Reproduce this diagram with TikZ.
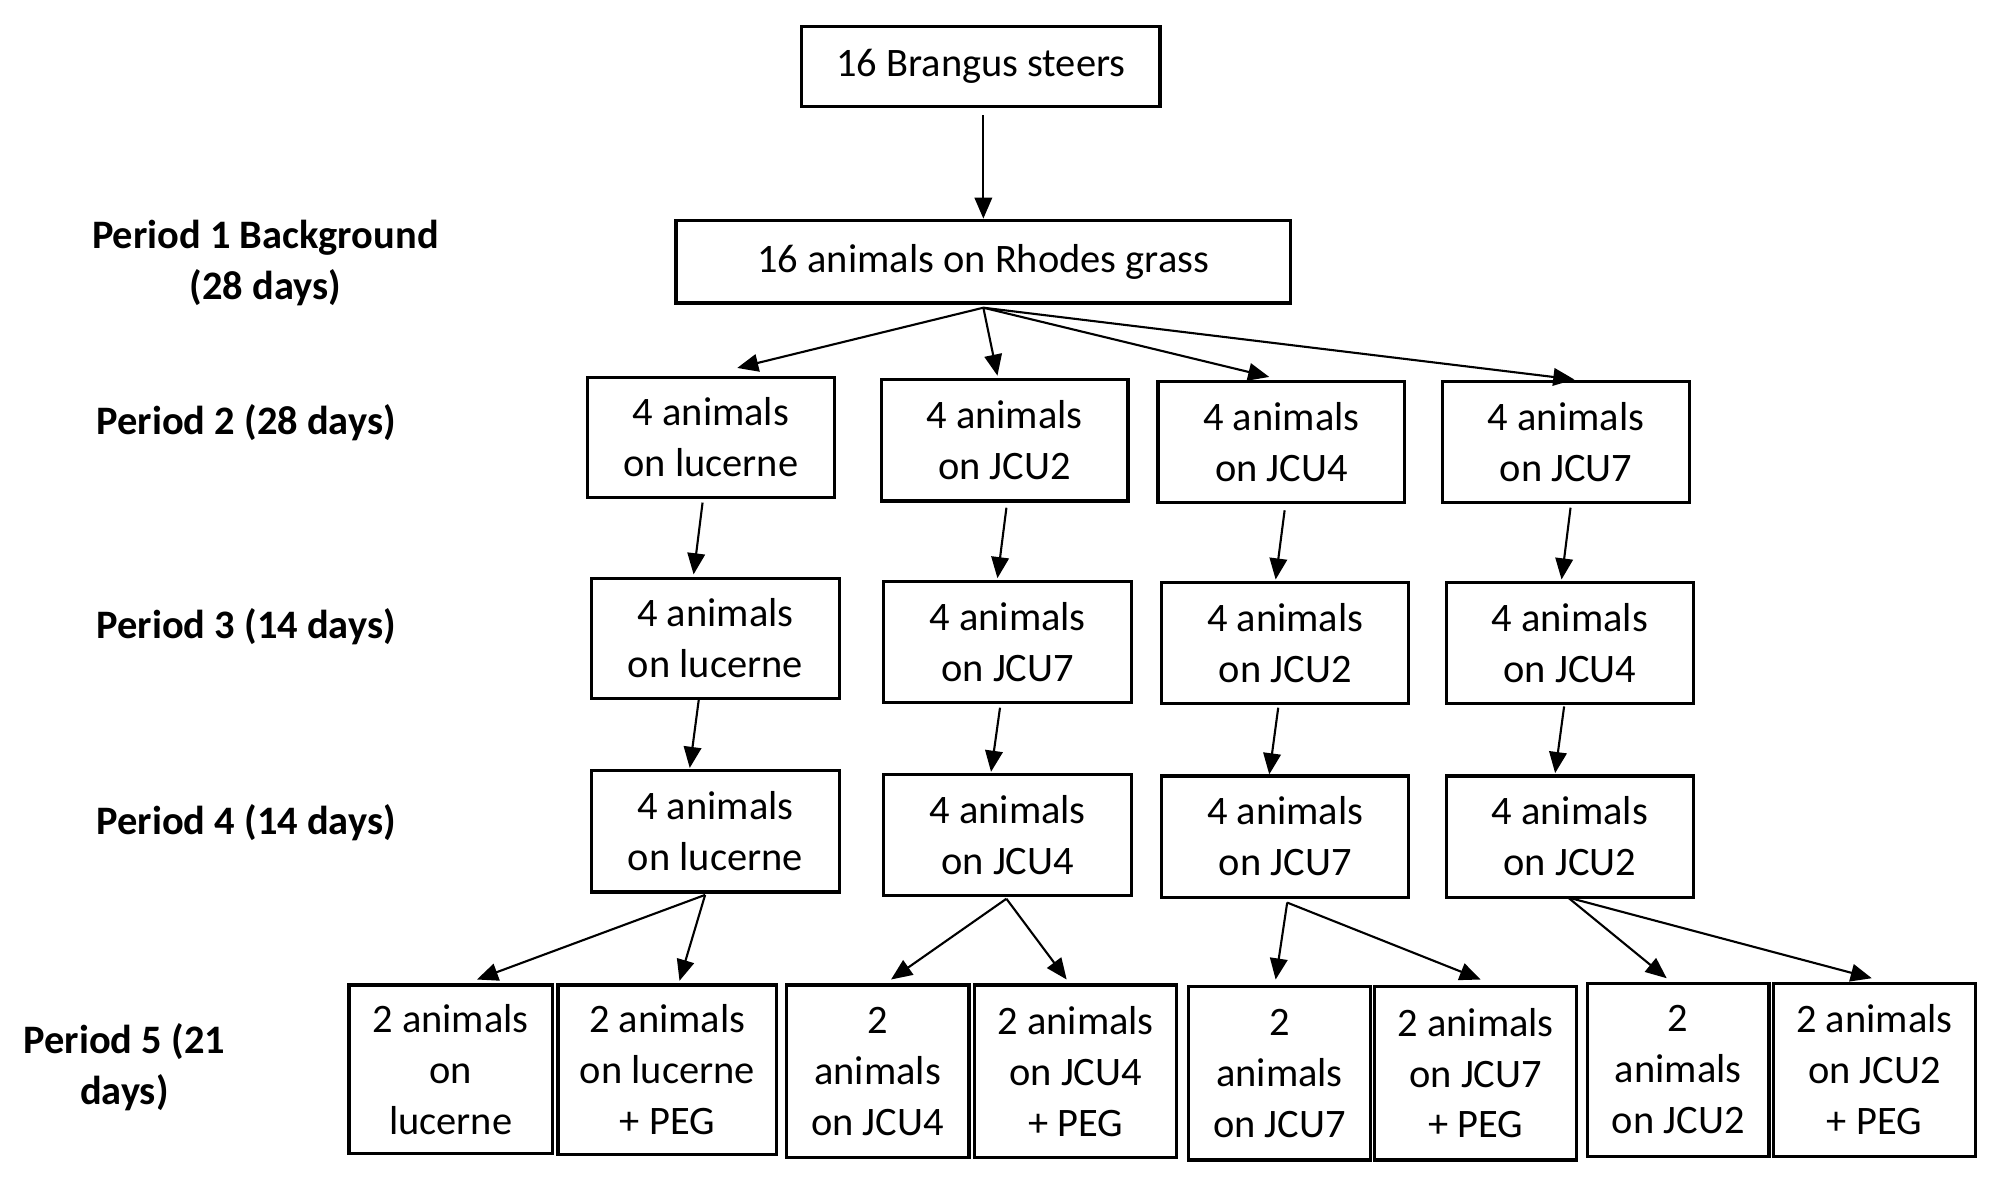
\documentclass[tikz,border=0pt]{standalone}
\usepackage{fontspec}
\setmainfont{Carlito}
\usetikzlibrary{arrows.meta}
\begin{document}
\begin{tikzpicture}[x=0.01282cm, y=-0.01282cm,
  box/.style={draw, line width=0.9pt, align=center, inner sep=0pt, font=\fontsize{11.5}{14.5}\selectfont},
  lbl/.style={align=center, font=\fontsize{11.5}{14.5}\selectfont\bfseries},
  arr/.style={-{Triangle[length=6pt,width=5pt]}, line width=0.6pt}]
\useasboundingbox (0,0) rectangle (1560,923);
\newcommand{\bx}[6]{\node[box, minimum width=#4*0.01282cm-0.9pt, minimum height=#5*0.01282cm-0.9pt] (#1) at (#2,#3) {#6};}
% boxes
\bx{top}{765}{52}{282}{65}{16 Brangus steers}
\bx{rh}{767}{204}{482}{67}{16 animals on Rhodes grass}
\bx{a2}{554.5}{341}{195}{96}{4 animals\\on lucerne}
\bx{b2}{783.5}{343.5}{195}{97}{4 animals\\on JCU2}
\bx{c2}{999.5}{344.5}{195}{97}{4 animals\\on JCU4}
\bx{d2}{1221.5}{344.5}{195}{97}{4 animals\\on JCU7}
\bx{a3}{558}{498}{196}{96}{4 animals\\on lucerne}
\bx{b3}{786}{500.5}{196}{97}{4 animals\\on JCU7}
\bx{c3}{1002.5}{501.5}{195}{97}{4 animals\\on JCU2}
\bx{d3}{1224.5}{501.5}{195}{97}{4 animals\\on JCU4}
\bx{a4}{558}{648.5}{196}{97}{4 animals\\on lucerne}
\bx{b4}{786}{651.5}{196}{97}{4 animals\\on JCU4}
\bx{c4}{1002.5}{652.5}{195}{97}{4 animals\\on JCU7}
\bx{d4}{1224.5}{652.5}{195}{97}{4 animals\\on JCU2}
\bx{p1}{351.5}{834}{161}{134}{2 animals\\on\\lucerne}
\bx{p2}{520.5}{834.5}{173}{135}{2 animals\\on lucerne\\+ PEG}
\bx{p3}{684.5}{835.5}{145}{137}{2\\animals\\on JCU4}
\bx{p4}{839}{835.5}{160}{137}{2 animals\\on JCU4\\+ PEG}
\bx{p5}{998}{837}{144}{138}{2\\animals\\on JCU7}
\bx{p6}{1151}{837}{160}{138}{2 animals\\on JCU7\\+ PEG}
\bx{p7}{1309}{834.5}{144}{137}{2\\animals\\on JCU2}
\bx{p8}{1462}{834.5}{160}{137}{2 animals\\on JCU2\\+ PEG}
% period labels
\node[lbl] (l1) at (207,205) {Period 1 Background\\(28 days)};
\node[lbl] (l2) at (192,330) {Period 2 (28 days)};
\node[lbl] (l3) at (192,489) {Period 3 (14 days)};
\node[lbl] (l4) at (192,642) {Period 4 (14 days)};
\node[lbl] (l5) at (97,832) {Period 5 (21\\days)};
% arrow end points
\coordinate (t0) at (767,90);
\coordinate (r0) at (767,240);
\coordinate (ta2) at (575,287); \coordinate (tb2) at (778,293);
\coordinate (tc2) at (990,294); \coordinate (td2) at (1228,296);
\draw[arr] (t0) -- (rh.north);
\foreach \n in {a,b,c,d} \draw[arr] (r0) -- (t\n2);
\coordinate (sa2) at (548,392); \coordinate (ea3) at (541,448);
\coordinate (sb2) at (785,396); \coordinate (eb3) at (778,451);
\coordinate (sc2) at (1002,398); \coordinate (ec3) at (995,452);
\coordinate (sd2) at (1225,396); \coordinate (ed3) at (1218,452);
\coordinate (sa3) at (545,546); \coordinate (ea4) at (538,599);
\coordinate (sb3) at (780,552); \coordinate (eb4) at (773,602);
\coordinate (sc3) at (997,552); \coordinate (ec4) at (990,604);
\coordinate (sd3) at (1220,551); \coordinate (ed4) at (1213,603);
\foreach \n in {a,b,c,d} {
  \draw[arr] (s\n2) -- (e\n3);
  \draw[arr] (s\n3) -- (e\n4);
}
\coordinate (sa4) at (550,698); \coordinate (sb4) at (785,701);
\coordinate (sc4) at (1004,704); \coordinate (sd4) at (1223,700);
\coordinate (e1) at (372,764); \coordinate (e2) at (530,765);
\coordinate (e3) at (695,764); \coordinate (e4) at (832,764);
\coordinate (e5) at (995,764); \coordinate (e6) at (1155,764);
\coordinate (e7) at (1300,763); \coordinate (e8) at (1460,763);
\draw[arr] (sa4) -- (e1); \draw[arr] (sa4) -- (e2);
\draw[arr] (sb4) -- (e3); \draw[arr] (sb4) -- (e4);
\draw[arr] (sc4) -- (e5); \draw[arr] (sc4) -- (e6);
\draw[arr] (sd4) -- (e7); \draw[arr] (sd4) -- (e8);
\end{tikzpicture}
\end{document}
